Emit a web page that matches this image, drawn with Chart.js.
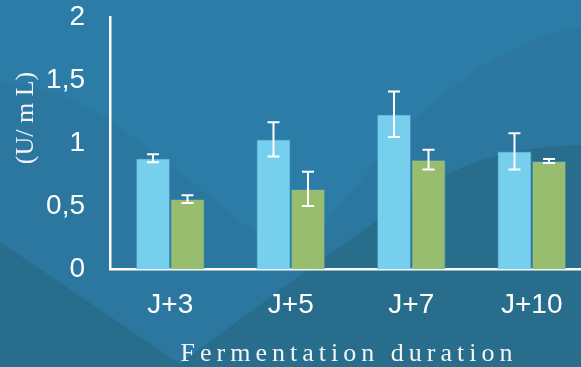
<!DOCTYPE html>
<html>
<head>
<meta charset="utf-8">
<script src="https://cdn.jsdelivr.net/npm/chart.js@4.4.0/dist/chart.umd.min.js"></script>
<style>
  html, body { margin: 0; padding: 0; overflow: hidden; background: #2c7ca8; }
  #chart { display: block; }
</style>
</head>
<body>
<canvas id="chart" width="620" height="367"></canvas>
<script>
// activité enzymatique par durée de fermentation, deux lots + écarts-types
const CATEGORIES = ["J+3", "J+5", "J+7", "J+10"];
const SERIES_A = [0.881, 1.031, 1.229, 0.936];
const SERIES_A_ERR = [0.032, 0.136, 0.18, 0.143];
const SERIES_B = [0.558, 0.638, 0.87, 0.859];
const SERIES_B_ERR = [0.031, 0.136, 0.078, 0.016];
const Y_TICKS = ["0", "0,5", "1", "1,5", "2"];
const Y_TITLE = "(U/ m L)";
const X_TITLE = "Fermentation duration";

const C = {
  bg: "#2c7ca8",
  bgMid: "#2b779f",
  bgDark: "#286d8c",
  blue: "#76cfec",
  green: "#99bd6e",
  edge: "rgba(62,140,184,0.65)",
  white: "#ffffff",
};

Chart.defaults.font.family = '"Liberation Sans", Arial, sans-serif';
Chart.defaults.color = C.white;

// fond à vagues
const backdrop = {
  id: "backdrop",
  beforeDraw(chart) {
    const { ctx, width, height } = chart;
    ctx.save();
    ctx.fillStyle = C.bg;
    ctx.fillRect(0, 0, width, height);

    ctx.fillStyle = C.bgMid;
    ctx.beginPath();
    ctx.moveTo(0, 83);
    ctx.bezierCurveTo(40, 84, 70, 96, 110, 120);
    ctx.lineTo(180, 172);
    ctx.lineTo(290, 262);
    ctx.lineTo(413, 120);
    ctx.bezierCurveTo(460, 78, 510, 40, 581, 27);
    ctx.lineTo(width, 25);
    ctx.lineTo(width, height);
    ctx.lineTo(0, height);
    ctx.closePath();
    ctx.fill();

    ctx.fillStyle = C.bgDark;
    ctx.beginPath();
    ctx.moveTo(0, 242);
    ctx.lineTo(180, 364);
    ctx.lineTo(300, 275);
    ctx.lineTo(420, 190);
    ctx.bezierCurveTo(470, 158, 520, 146, 581, 145);
    ctx.lineTo(width, 145);
    ctx.lineTo(width, height);
    ctx.lineTo(0, height);
    ctx.closePath();
    ctx.fill();
    ctx.restore();
  },
};

// barres d'erreur blanches
const errorBars = {
  id: "errorBars",
  afterDatasetsDraw(chart) {
    const { ctx } = chart;
    const y = chart.scales.y;
    ctx.save();
    ctx.strokeStyle = C.white;
    ctx.lineWidth = 2;
    chart.data.datasets.forEach((ds, i) => {
      const meta = chart.getDatasetMeta(i);
      meta.data.forEach((bar, j) => {
        const v = ds.data[j];
        const e = ds.errors[j];
        const top = y.getPixelForValue(v + e);
        const bot = y.getPixelForValue(v - e);
        const x = bar.x;
        const w = 6;
        ctx.beginPath();
        ctx.moveTo(x, top);
        ctx.lineTo(x, bot);
        ctx.moveTo(x - w, top);
        ctx.lineTo(x + w, top);
        ctx.moveTo(x - w, bot);
        ctx.lineTo(x + w, bot);
        ctx.stroke();
      });
    });
    ctx.restore();
  },
};

// titres des axes
const axisTitles = {
  id: "axisTitles",
  afterDraw(chart) {
    const { ctx } = chart;
    ctx.save();
    ctx.fillStyle = "#f2f5f7";
    ctx.textAlign = "center";
    ctx.textBaseline = "alphabetic";

    ctx.font = '26px "Liberation Serif", "Times New Roman", serif';
    ctx.letterSpacing = "5px";
    ctx.fillText(X_TITLE, 349, 361);

    ctx.translate(33, 118);
    ctx.rotate(-Math.PI / 2);
    ctx.font = '26px "Liberation Serif", "Times New Roman", serif';
    ctx.letterSpacing = "0px";
    ctx.fillText(Y_TITLE, 0, 0);
    ctx.restore();
  },
};

new Chart(document.getElementById("chart").getContext("2d"), {
  type: "bar",
  data: {
    labels: CATEGORIES,
    datasets: [
      {
        data: SERIES_A,
        errors: SERIES_A_ERR,
        backgroundColor: C.blue,
        borderColor: C.edge,
        borderWidth: 1,
      },
      {
        data: SERIES_B,
        errors: SERIES_B_ERR,
        backgroundColor: C.green,
        borderColor: C.edge,
        borderWidth: 1,
      },
    ],
  },
  options: {
    responsive: false,
    animation: false,
    devicePixelRatio: 1,
    layout: { padding: { left: 0, top: 17, right: 28, bottom: 0 } },
    datasets: { bar: { categoryPercentage: 0.573, barPercentage: 1 } },
    plugins: { legend: { display: false }, tooltip: { enabled: false } },
    scales: {
      x: {
        grid: { display: false, drawTicks: false },
        border: { display: true, color: C.white, width: 2.5 },
        ticks: { color: C.white, font: { size: 28 }, padding: 19 },
        afterFit: (s) => {
          s.height = 97.5;
          s.paddingLeft = 0;
          s.paddingRight = 0;
        },
      },
      y: {
        min: 0,
        max: 2,
        grid: { display: false, drawTicks: false },
        border: { display: true, color: C.white, width: 2.5 },
        ticks: {
          stepSize: 0.5,
          color: C.white,
          font: { size: 28 },
          padding: 25,
          callback: (v, i) => Y_TICKS[i],
        },
        afterFit: (s) => {
          s.width = 110;
          s.paddingTop = 0;
          s.paddingBottom = 0;
        },
      },
    },
  },
  plugins: [backdrop, errorBars, axisTitles],
});
</script>
</body>
</html>
